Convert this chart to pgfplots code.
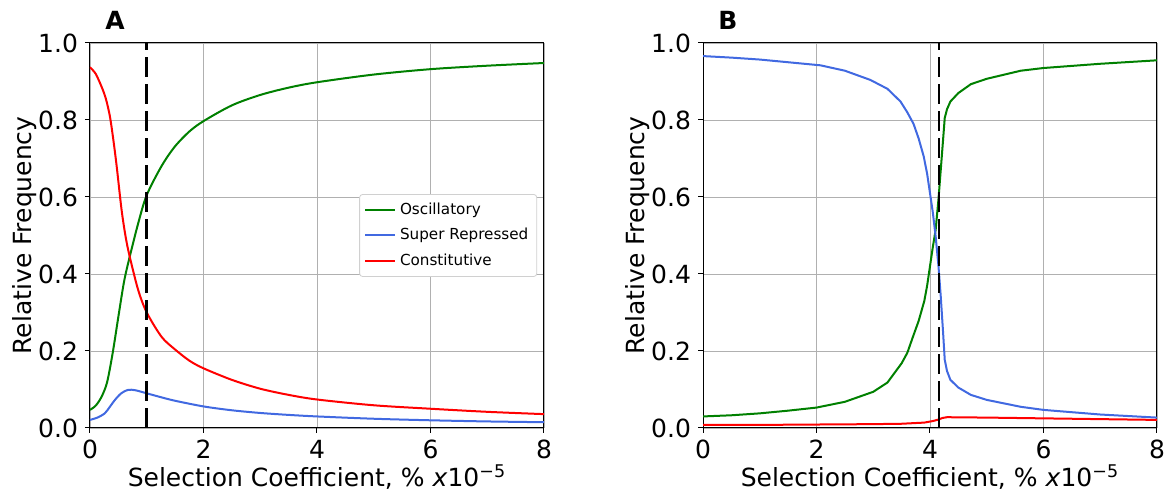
\documentclass[border=0pt]{standalone}
\usepackage{fontspec}
\setmainfont{DejaVu Sans}
\usepackage{pgfplots}
\pgfplotsset{compat=1.18}

\definecolor{mgreen}{RGB}{0,128,0}
\definecolor{mblue}{RGB}{65,105,225}
\definecolor{mred}{RGB}{255,0,0}
\definecolor{mgrid}{RGB}{176,176,176}

\pgfplotsset{
  panel/.style={
    scale only axis,
    width=227pt, height=192.5pt,
    xmin=0, xmax=8, ymin=0, ymax=1,
    xtick={0,2,4,6,8},
    ytick={0,0.2,0.4,0.6,0.8,1.0},
    grid=major,
    grid style={mgrid, line width=0.4pt},
    axis line style={black, line width=0.5pt},
    tick align=outside,
    major tick length=2.5pt,
    tick style={black, line width=0.5pt},
    xtick pos=bottom, ytick pos=left,
    clip mode=individual,
    /pgf/number format/assume math mode=true,
    yticklabel style={/pgf/number format/.cd, fixed, fixed zerofill, precision=1},
    ticklabel style={font=\fontsize{12.5}{15}\selectfont},
    label style={font=\fontsize{12.5}{15}\selectfont},
    xlabel={Selection Coefficient, \% \textit{x}10\textsuperscript{−5}},
    ylabel={Relative Frequency},
    xlabel style={at={(axis description cs:0.5,-0.128)}, anchor=center},
    ylabel style={at={(axis description cs:-0.143,0.5)}, anchor=center},
    every axis plot/.append style={line width=1pt},
  }
}

\begin{document}
\begin{tikzpicture}
\path[use as bounding box] (-45pt,-31pt) rectangle (537pt,214pt);

\begin{axis}[panel,
  legend style={at={(axis description cs:0.985,0.5)}, anchor=east,
    font=\fontsize{7.6}{9}\selectfont, draw=mgrid!60, rounded corners=1.5pt,
    row sep=1.4pt, inner sep=2.2pt},
  legend cell align=left,
  legend image code/.code={\draw[#1] (0pt,0pt) -- (15pt,0pt);},
]
\addplot[mgreen, smooth] coordinates {
  (0,0.047) (0.1,0.058) (0.2,0.08) (0.3,0.118) (0.4,0.195) (0.5,0.289)
  (0.6,0.38) (0.7,0.445) (0.85,0.532) (1.0,0.605) (1.26,0.68) (1.49,0.73)
  (1.75,0.77) (2.0,0.797) (2.5,0.838) (3.0,0.865) (3.5,0.884) (4.0,0.898)
  (5.0,0.918) (6.0,0.932) (7.0,0.941) (8.0,0.948)
};
\addlegendentry{Oscillatory}
\addplot[mblue, smooth] coordinates {
  (0,0.021) (0.13,0.027) (0.26,0.038) (0.35,0.055) (0.44,0.073) (0.55,0.09)
  (0.67,0.099) (0.8,0.098) (1.0,0.09) (1.25,0.08) (1.49,0.071) (2.0,0.056)
  (2.5,0.046) (3.0,0.039) (3.5,0.034) (4.0,0.03) (5.0,0.024) (6.0,0.02)
  (7.0,0.017) (8.0,0.015)
};
\addlegendentry{Super Repressed}
\addplot[mred, smooth] coordinates {
  (0,0.937) (0.1,0.92) (0.205,0.886) (0.28,0.855) (0.35,0.81) (0.41,0.75)
  (0.47,0.68) (0.557,0.566) (0.63,0.495) (0.70,0.445) (0.85,0.358) (1.0,0.3)
  (1.26,0.237) (1.49,0.205) (1.75,0.175) (2.0,0.155) (2.5,0.125) (3.0,0.102)
  (3.5,0.086) (4.0,0.074) (5.0,0.059) (6.0,0.05) (7.0,0.042) (8.0,0.036)
};
\addlegendentry{Constitutive}
\addplot[black, line width=1.4pt, dash pattern=on 10pt off 3.5pt, forget plot]
  coordinates {(1.0,0) (1.0,1)};
\node[font=\bfseries\fontsize{12.5}{15}\selectfont] at (axis description cs:0.055,1.06) {A};
\end{axis}

\begin{axis}[panel, at={(306.5pt,0pt)}]
\addplot[mgreen] coordinates {
  (0,0.03) (0.5,0.033) (1,0.038) (1.5,0.045) (2,0.053) (2.5,0.068) (3.0,0.094)
  (3.25,0.118) (3.5,0.168) (3.6,0.195) (3.7,0.237) (3.8,0.278) (3.9,0.33)
  (3.95,0.37) (4.0,0.42) (4.05,0.47) (4.1,0.515) (4.15,0.595) (4.2,0.69)
  (4.26,0.805) (4.3,0.828) (4.36,0.848) (4.5,0.87) (4.72,0.893) (5.0,0.907)
  (5.6,0.928) (6.0,0.935) (7.0,0.946) (8.0,0.955)
};
\addplot[mblue] coordinates {
  (0,0.966) (0.5,0.962) (1,0.957) (1.5,0.95) (2.07,0.942) (2.5,0.928)
  (2.95,0.904) (3.25,0.881) (3.48,0.848) (3.6,0.82) (3.71,0.79) (3.8,0.752)
  (3.89,0.705) (3.95,0.66) (4.01,0.6) (4.05,0.56) (4.1,0.497) (4.15,0.42)
  (4.19,0.341) (4.23,0.25) (4.26,0.177) (4.3,0.148) (4.36,0.125) (4.5,0.105)
  (4.72,0.086) (5.0,0.073) (5.6,0.055) (6.0,0.047) (7.0,0.035) (8.0,0.027)
};
\addplot[mred] coordinates {
  (0,0.008) (1,0.008) (2,0.009) (3,0.01) (3.5,0.011) (3.9,0.014) (4.05,0.018)
  (4.15,0.022) (4.22,0.026) (4.3,0.028) (5,0.027) (6,0.025) (7,0.023) (8,0.021)
};
\addplot[black, line width=1.4pt, dash pattern=on 10pt off 3.5pt]
  coordinates {(4.16,0) (4.16,1)};
\node[font=\bfseries\fontsize{12.5}{15}\selectfont] at (axis description cs:0.055,1.06) {B};
\end{axis}
\end{tikzpicture}
\end{document}
